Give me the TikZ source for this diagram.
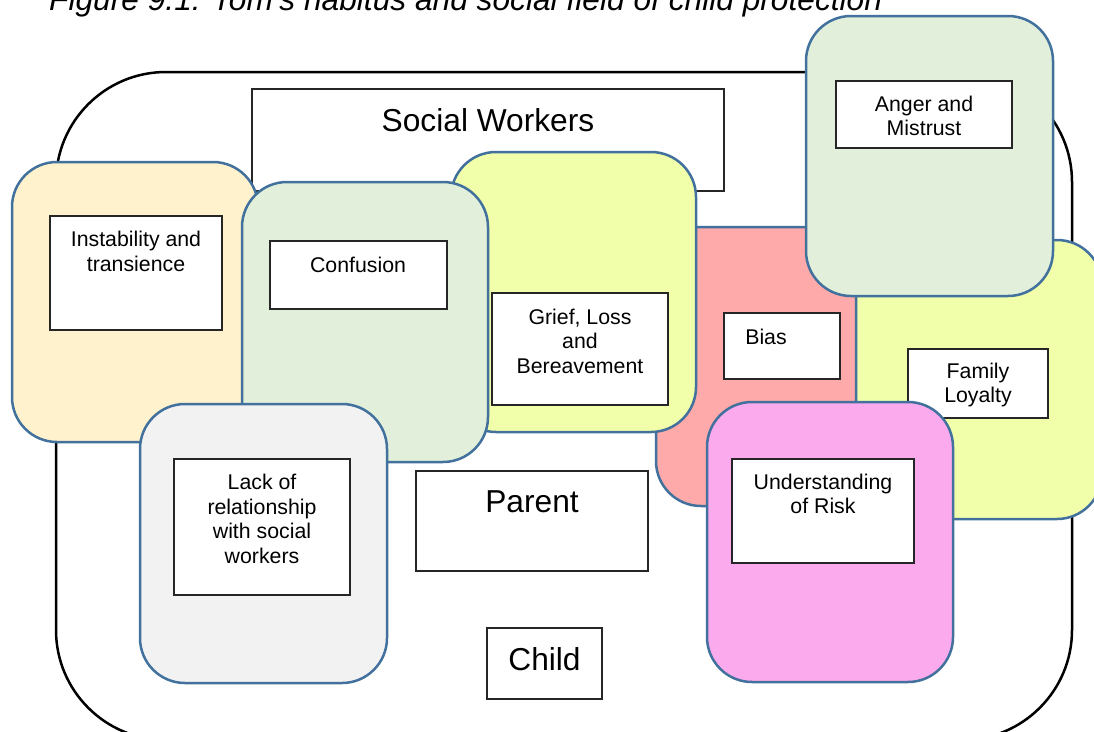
\documentclass[tikz,border=0pt]{standalone}
\usepackage{fontspec}
\setmainfont{Liberation Sans}

\definecolor{fieldline}{RGB}{65,113,156}
\definecolor{peach}{RGB}{255,242,204}
\definecolor{sage}{RGB}{226,239,218}
\definecolor{lime}{RGB}{242,255,170}
\definecolor{rose}{RGB}{255,170,170}
\definecolor{orchid}{RGB}{252,170,238}
\definecolor{mist}{RGB}{242,242,242}

\tikzset{
  field/.style={draw=fieldline, line width=2.5pt, rounded corners=45pt},
  tag/.style={draw=black!85, line width=1.3pt, fill=white},
  small/.style={font=\fontsize{21.3}{24.5}\selectfont, align=center, inner sep=0pt},
  big/.style={font=\fontsize{31.7}{38}\selectfont, inner sep=0pt}
}

\begin{document}
\begin{tikzpicture}[x=1pt, y=-1pt]
\useasboundingbox (0,0) rectangle (1094,731);
\clip (0,0) rectangle (1094,731);
\node[font=\fontsize{31.7}{38}\selectfont\itshape, anchor=base west, inner sep=0pt] (caption) at (49,10) {Figure 9.1: Tom's habitus and social field of child protection};
\draw[line width=2.5pt, rounded corners=110pt] (56,72) rectangle (1072,740);
\filldraw[tag] (252,89) rectangle (724,191);
\node[big] (social) at (488,120) {Social Workers};
\filldraw[field, fill=rose] (656,227) rectangle (902,506);
\filldraw[tag] (724,313) rectangle (840,379);
\node[small] (bias) at (766,337) {Bias};
\filldraw[field, fill=lime] (451,152) rectangle (696,432);
\filldraw[tag] (492,293) rectangle (668,405);
\node[small] (grief) at (580,341) {Grief, Loss\\and\\Bereavement};
\filldraw[field, fill=peach] (12,162) rectangle (258,442);
\filldraw[tag] (50,216) rectangle (222,330);
\node[small] (instability) at (136,251.5) {Instability and\\transience};
\filldraw[field, fill=sage] (242,182) rectangle (488,462);
\filldraw[tag] (270,241) rectangle (447,309);
\node[small] (confusion) at (358,265) {Confusion};
\filldraw[field, fill=mist] (140,404) rectangle (387,683);
\filldraw[tag] (174,459) rectangle (350,595);
\node[small] (lack) at (262,519) {Lack of\\relationship\\with social\\workers};
\filldraw[field, fill=lime] (856,240) rectangle (1102,519);
\filldraw[tag] (908,349) rectangle (1048,418);
\node[small] (loyalty) at (978,385) {Family\\Loyalty};
\filldraw[field, fill=sage] (806,16) rectangle (1053,296);
\filldraw[tag] (836,81) rectangle (1012,148);
\node[small] (anger) at (924,116) {Anger and\\Mistrust};
\filldraw[field, fill=orchid] (707,402) rectangle (953,682);
\filldraw[tag] (732,459) rectangle (914,563);
\node[small] (risk) at (823,494) {Understanding\\of Risk};
\filldraw[tag] (416,471) rectangle (648,571);
\node[big] (parent) at (532,502) {Parent};
\filldraw[tag] (487,628) rectangle (602,699);
\node[big] (child) at (544.5,659) {Child};
\end{tikzpicture}
\end{document}
